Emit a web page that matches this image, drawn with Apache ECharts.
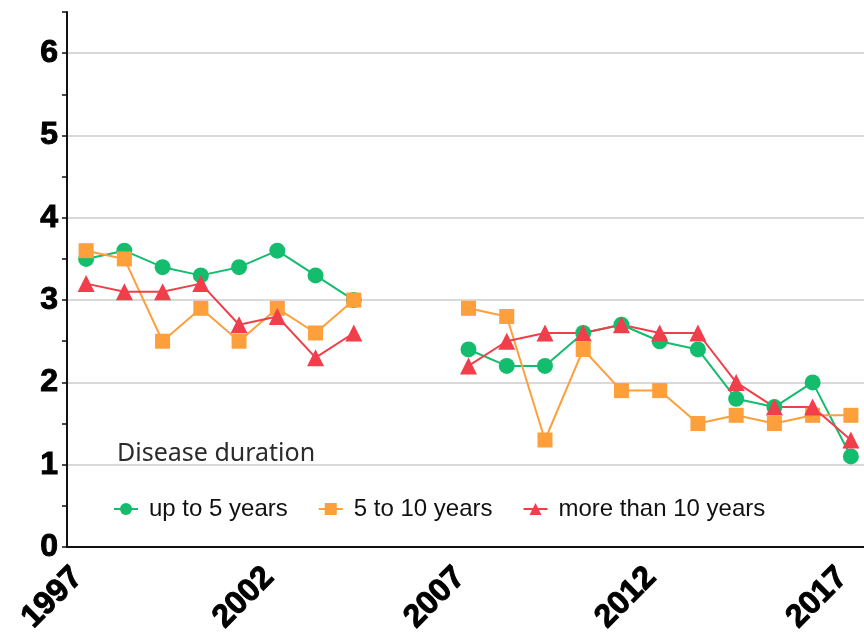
<!DOCTYPE html>
<html>
<head>
<meta charset="utf-8">
<script src="https://cdn.jsdelivr.net/npm/echarts@6/dist/echarts.min.js"></script>
<style>
  html, body { margin: 0; padding: 0; background: #fff; }
  #chart { width: 864px; height: 642px; }
</style>
</head>
<body>
<div id="chart"></div>
<script>
const years = [
  "1997", "1998", "1999", "2000", "2001", "2002", "2003", "2004", "2005", "2006", "2007",
  "2008", "2009", "2010", "2011", "2012", "2013", "2014", "2015", "2016", "2017",
];
const seriesNames = ["up to 5 years", "5 to 10 years", "more than 10 years"];
const upTo5 = [3.5, 3.6, 3.4, 3.3, 3.4, 3.6, 3.3, 3.0, null, null, 2.4, 2.2, 2.2, 2.6, 2.7, 2.5, 2.4, 1.8, 1.7, 2.0, 1.1];
const fiveTo10 = [3.6, 3.5, 2.5, 2.9, 2.5, 2.9, 2.6, 3.0, null, null, 2.9, 2.8, 1.3, 2.4, 1.9, 1.9, 1.5, 1.6, 1.5, 1.6, 1.6];
const over10 = [3.2, 3.1, 3.1, 3.2, 2.7, 2.8, 2.3, 2.6, null, null, 2.2, 2.5, 2.6, 2.6, 2.7, 2.6, 2.6, 2.0, 1.7, 1.7, 1.3];

const colors = ["#14bd6d", "#fd9f3b", "#f03f4b"];
const symbols = ["circle", "rect", "triangle"];
const symbolSizes = [16, 15, 17];

const chart = echarts.init(document.getElementById("chart"));

const makeSeries = (name, data, i) => ({
  name,
  type: "line",
  data,
  symbol: symbols[i],
  symbolSize: symbolSizes[i],
  connectNulls: false,
  lineStyle: { width: 2, color: colors[i] },
  itemStyle: { color: colors[i] },
});

// bold axis digits, a bit heavier than plain bold
const axisFont = {
  fontFamily: "Liberation Sans",
  fontWeight: "bold",
  fontSize: 32,
  color: "#000",
  textBorderColor: "#000",
  textBorderWidth: 1,
};

chart.setOption({
  animation: false,
  color: colors,
  title: {
    text: "Disease duration",
    left: 112,
    top: 436,
    textStyle: {
      fontFamily: "Noto Sans",
      fontSize: 25,
      fontWeight: "normal",
      color: "#2b2b2b",
    },
  },
  legend: {
    data: seriesNames,
    left: 113,
    top: 497,
    padding: 0,
    itemWidth: 24,
    itemHeight: 15,
    itemGap: 30,
    textStyle: {
      fontFamily: "Liberation Sans",
      fontSize: 24,
      color: "#111",
      padding: [0, 0, 0, 6],
    },
  },
  grid: {
    left: 67,
    top: 12,
    width: 803,
    bottom: 95,
    outerBoundsMode: "none",
  },
  xAxis: {
    type: "category",
    data: years,
    boundaryGap: true,
    axisLine: { lineStyle: { color: "#111", width: 2 } },
    axisTick: { alignWithLabel: true, interval: 4, length: 6, lineStyle: { color: "#111", width: 1.5 } },
    axisLabel: Object.assign({}, axisFont, {
      interval: 4,
      rotate: 45,
      margin: 17,
      padding: [0, 12, 0, 0],
    }),
    splitLine: { show: false },
  },
  yAxis: [
    {
      type: "value",
      min: 0,
      max: 6.5,
      interval: 0.5,
      axisLine: { show: true, lineStyle: { color: "#111", width: 2 } },
      axisTick: { show: true, length: 5, lineStyle: { color: "#111", width: 1.5 } },
      axisLabel: Object.assign({}, axisFont, {
        margin: 9,
        formatter: (v) => (Number.isInteger(v) ? String(v) : ""),
      }),
      splitLine: { show: false },
    },
    {
      type: "value",
      min: 0,
      max: 6.5,
      interval: 1,
      position: "right",
      axisLine: { show: false },
      axisTick: { show: false },
      axisLabel: { show: false },
      splitLine: {
        show: true,
        showMinLine: false,
        showMaxLine: false,
        lineStyle: { color: "#d9d9d9", width: 2 },
      },
    },
  ],
  series: [
    makeSeries(seriesNames[0], upTo5, 0),
    makeSeries(seriesNames[1], fiveTo10, 1),
    makeSeries(seriesNames[2], over10, 2),
  ],
});
</script>
</body>
</html>
